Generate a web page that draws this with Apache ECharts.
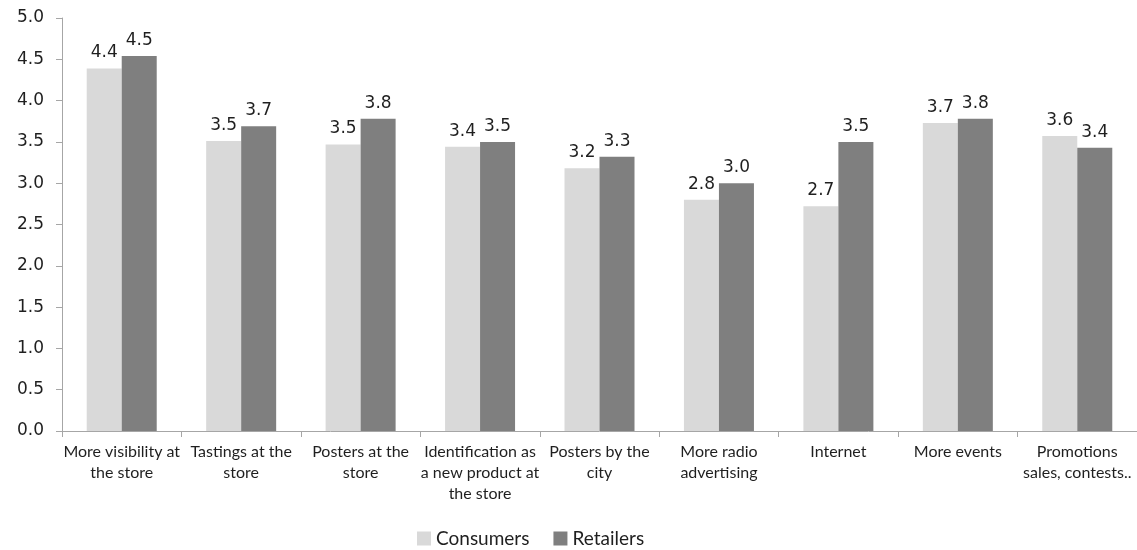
<!DOCTYPE html>
<html>
<head>
<meta charset="utf-8">
<script src="https://cdn.jsdelivr.net/npm/echarts@6/dist/echarts.min.js"></script>
<style>
html,body{margin:0;padding:0;background:#fff;}
#chart{width:1137px;height:550px;}
</style>
</head>
<body>
<div id="chart"></div>
<script>
const categories = [
  "More visibility at\nthe store",
  "Tastings at the\nstore",
  "Posters at the\nstore",
  "Identification as\na new product at\nthe store",
  "Posters by the\ncity",
  "More radio\nadvertising",
  "Internet",
  "More events",
  "Promotions\nsales, contests.."
];
const consumers = [4.39, 3.51, 3.47, 3.44, 3.18, 2.80, 2.72, 3.73, 3.57];
const retailers = [4.54, 3.69, 3.78, 3.50, 3.32, 3.00, 3.50, 3.78, 3.43];
const seriesNames = ["Consumers", "Retailers"];
const yTicks = {min: 0, max: 5, interval: 0.5};

const numFont = "DejaVu Sans";
const txtFont = "Lato";
const textColor = "#1f1f1f";
const axisColor = "#a6a6a6";

const chart = echarts.init(document.getElementById('chart'), null, {renderer: 'canvas'});
const labelCfg = {
  show: true,
  position: 'top',
  distance: 7,
  fontFamily: numFont,
  fontSize: 17,
  color: textColor,
  formatter: p => p.value.toFixed(1)
};
chart.setOption({
  animation: false,
  backgroundColor: '#ffffff',
  grid: {left: 62, top: 18, width: 1080, height: 413, containLabel: false},
  legend: {
    data: seriesNames,
    left: 412,
    top: 524,
    itemWidth: 14,
    itemHeight: 14,
    itemGap: 24,
    icon: 'rect',
    textStyle: {fontFamily: txtFont, fontSize: 19, color: textColor, padding: [0, 0, 0, 0]}
  },
  xAxis: {
    type: 'category',
    data: categories,
    axisLine: {show: true, lineStyle: {color: axisColor, width: 1}},
    axisTick: {show: true, alignWithLabel: false, length: 6, lineStyle: {color: axisColor}},
    axisLabel: {
      interval: 0,
      margin: 10,
      fontFamily: txtFont,
      fontSize: 16,
      lineHeight: 21,
      color: textColor,
      align: 'center'
    },
    splitLine: {show: false}
  },
  yAxis: {
    type: 'value',
    min: yTicks.min,
    max: yTicks.max,
    interval: yTicks.interval,
    axisLine: {show: true, lineStyle: {color: axisColor, width: 1}},
    axisTick: {show: true, length: 6, lineStyle: {color: axisColor}},
    axisLabel: {
      margin: 18,
      fontFamily: numFont,
      fontSize: 17,
      color: textColor,
      formatter: v => v.toFixed(1)
    },
    splitLine: {show: false}
  },
  series: [
    {
      name: seriesNames[0],
      type: 'bar',
      data: consumers,
      barWidth: 35,
      barGap: '0%',
      itemStyle: {color: '#d9d9d9'},
      label: labelCfg
    },
    {
      name: seriesNames[1],
      type: 'bar',
      data: retailers,
      barWidth: 35,
      barGap: '0%',
      itemStyle: {color: '#7f7f7f'},
      label: labelCfg
    }
  ]
});
</script>
</body>
</html>
